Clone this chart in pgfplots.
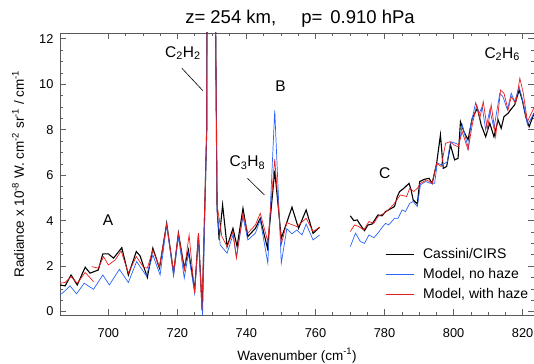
\documentclass[border=0pt]{standalone}
\usepackage{pgfplots}
\pgfplotsset{compat=1.18}
\usepackage{fontspec}
\setmainfont{Liberation Sans}
\definecolor{cblue}{RGB}{40,100,250}
\definecolor{cred}{RGB}{235,30,30}
\begin{document}
\begin{tikzpicture}
\begin{axis}[
 scale only axis, width=474bp, height=282bp,
 xmin=686, xmax=823.3, ymin=-0.15, ymax=12.25,
 xtick={700,720,...,820}, ytick={0,2,...,12},
 minor x tick num=3, minor y tick num=3,
 tick align=inside, major tick length=6bp, minor tick length=3.5bp,
 tick style={gray!75!black, line width=0.5bp},
 axis line style={gray!70!black, line width=0.6bp},
 tick label style={font=\fontsize{12.8bp}{15bp}\selectfont},
 label style={font=\fontsize{13.5bp}{15bp}\selectfont},
 /pgf/number format/assume math mode=true,
 xticklabel style={yshift=-10.5bp},
 yticklabel style={xshift=-3bp},
 title={z= 254 km,\hspace{25bp}p=\hspace{8bp}0.910 hPa},
 title style={font=\fontsize{18.5bp}{20bp}\selectfont, at={(axis description cs:0.5,1)}, anchor=base, yshift=4bp, xshift=3bp},
 xlabel={Wavenumber (cm\textsuperscript{-1})},
 xlabel style={at={(axis description cs:0.5,0)}, anchor=base, yshift=-45bp},
 ylabel={Radiance x 10\textsuperscript{-8} W. cm\textsuperscript{-2} sr\textsuperscript{-1} / cm\textsuperscript{-1}},
 ylabel style={at={(axis description cs:-0.0886,0.50)}, anchor=center},
 unbounded coords=jump,
 legend cell align=left,
 legend image code/.code={\draw[#1] (0bp,0bp) -- (28bp,0bp);},
 legend style={at={(rel axis cs:0.6857,0.243)}, anchor=north west, draw=none, fill=none,
   inner sep=0pt, outer sep=0pt, column sep=7bp, row sep=4.5bp,
   font=\fontsize{14bp}{16bp}\selectfont},
]
\addplot[black, line width=1.1bp, forget plot] coordinates {
(686,1.17) (687.5,1.13) (689.2,1.61) (691,1.17) (693.3,1.95) (694.7,1.69) (697.1,1.83) (698.4,2.54) (700,2.54) (701.5,2.35) (703.9,2.81) (705.8,1.61) (708.1,2.64) (709.2,2.45) (711.3,1.50) (712.9,2.79) (714.8,1.91) (716.9,3.88) (718.9,1.69) (720.3,3.45) (722,1.91) (723.2,2.71) (725,0.95) (726.1,3.37) (727.2,0.05) (728.5,8) (729,40) (730.5,40) (731,14) (731.5,4.54) (732.1,3.15) (733.1,4.69) (734.4,2.86) (736.1,3.66) (737.3,2.86) (739,4.54) (740.4,3.30) (742.6,3.66) (744,4.10) (746.1,2.79) (748.2,6.2) (750.1,3.22) (753.2,4.59) (755.1,3.66) (757.3,4.47) (759.3,3.44) (761.2,3.71)
(765,nan)
(770.1,4.21) (771.1,4.0) (772.1,4.03) (773,3.81) (774.2,3.56) (775.2,3.81) (776.4,3.85) (778.1,4.25) (779.3,4.21) (780.3,4.40) (781.2,4.47) (782.9,4.62) (783.7,5.06) (784.4,5.28) (785.6,5.42) (787.1,5.64) (787.7,5.35) (788.3,4.91) (789.5,4.73) (790.2,5.72) (791.6,5.82) (792.9,5.86) (793.8,5.64) (795.1,6.52) (796.2,7.77) (797,6.30) (798,6.38) (799.1,7.33) (800.3,6.67) (801.3,6.74) (802.0,8.35) (803,7.91) (804.2,7.55) (805.4,8.50) (806.9,8.94) (808.0,8.21) (809.3,7.69) (810.5,8.28) (811.7,7.69) (812.9,8.43) (813.8,8.06) (814.6,8.57) (815.8,8.72) (816.5,8.87) (817.7,9.09) (819,9.74) (819.9,9.31) (820.9,8.57) (821.9,8.13) (823.3,8.72)
};
\addplot[cblue, line width=0.7bp, forget plot] coordinates {
(686,0.73) (687.2,0.88) (688.9,1.13) (690.8,0.78) (693,1.25) (695.7,0.98) (698.4,1.61) (700.3,1.17) (703.2,1.86) (705.8,1.28) (708.2,2.20) (711,1.57) (712.9,2.49) (715,1.61) (716.9,3.81) (718.9,1.57) (720.3,3.30) (722,1.47) (723.2,2.57) (725,0.81) (726.1,3.22) (727.3,-0.15) (728.5,8) (729,40) (730.5,40) (731,14) (731.5,4.47) (732.4,2.93) (734.4,2.57) (736.1,3.37) (737.1,2.42) (739,4.18) (740.4,3.15) (742.6,3.45) (744,4.03) (746.2,2.13) (748.2,8.85) (750.1,2.13) (751.7,3.64) (753.2,3.42) (754.6,3.59) (756.1,3.37) (757.3,3.85) (759.3,3.15) (761.2,3.37)
(765,nan)
(770.1,2.86) (771.6,3.45) (773,3.08) (774.2,3.0) (775.5,3.37) (776.9,3.25) (778.1,3.45) (779.3,3.7) (780.3,3.88) (781.2,3.81) (782.9,4.10) (783.9,4.1) (785.1,4.47) (786.1,4.40) (787.3,4.76) (788.3,4.84) (789.5,4.62) (790.4,5.57) (791.9,5.72) (793.3,5.64) (794.5,5.64) (795.3,6.52) (796.7,6.45) (798.2,6.59) (799.1,7.47) (800.6,7.40) (801.6,7.33) (802.5,8.21) (804.3,7.18) (804.9,8.13) (806.4,9.19) (807.4,8.72) (808.3,9.01) (809.3,7.99) (810.5,8.87) (811.7,8.06) (813.4,9.6) (814.3,9.45) (815.6,8.87) (816.7,9.60) (817.7,9.23) (819,9.89) (820.2,9.16) (821.4,8.21) (822.5,8.50) (823.5,8.79)
};
\addplot[cred, line width=0.7bp, forget plot] coordinates {
(686,1.25) (687.5,1.28) (689.2,1.54) (691,1.25) (693.3,1.72) (695.7,1.32) (695.5,nan) (695.2,1.98) (697.1,1.91) (698.6,2.42) (700,2.05) (702,2.27) (703.7,2.67) (705.8,1.69) (708.1,2.42) (710.2,1.95) (711.3,1.91) (712.9,2.71) (714.8,1.95) (716.9,3.85) (718.9,1.76) (720.3,3.45) (722,1.83) (723.4,3.37) (725,0.81) (726.1,3.45) (727.1,0.07) (728.5,8) (729,40) (730.5,40) (731,14) (731.5,4.69) (732.9,3.30) (734.4,2.86) (736.1,3.52) (737.1,2.35) (739,4.32) (740.4,3.45) (742.6,3.81) (744,4.32) (746.2,3.08) (748.2,6.7) (750.1,2.96) (751.7,3.91) (754.6,3.74) (757.3,4.10) (759.3,3.52) (761.2,3.71)
(765,nan)
(770.1,3.52) (771.3,3.81) (772.5,3.74) (774,3.59) (775.5,3.96) (776.9,3.88) (778.1,4.18) (779.8,4.32) (780.6,4.40) (782.5,4.69) (784.6,5.13) (786.4,5.06) (787.3,5.42) (788.5,5.28) (789.5,5.42) (790.4,5.64) (792.2,5.79) (793.8,5.64) (795.1,6.52) (796.4,6.38) (797.7,7.40) (799,7.47) (800.1,7.33) (801.3,7.25) (802.5,7.91) (804.2,7.11) (805.4,8.21) (806.7,9.09) (807.6,8.50) (808.6,9.23) (809.8,7.99) (810.9,9.09) (812.2,7.69) (813.6,9.74) (814.6,9.6) (815.8,8.87) (816.7,9.45) (818,9.16) (819.2,10.26) (820.2,9.6) (821.4,8.35) (822.5,8.72) (823.5,9.01)
};
\addlegendimage{draw=black, line width=1.1bp}
\addlegendentry{Cassini/CIRS}
\addlegendimage{draw=cblue, line width=1bp}
\addlegendentry{Model, no haze}
\addlegendimage{draw=cred, line width=1bp}
\addlegendentry{Model, with haze}
\begin{scope}[every node/.style={font=\fontsize{15.5bp}{17bp}\selectfont, anchor=base}]
\node at (axis cs:721.6,11.18) {C\textsubscript{2}H\textsubscript{2}};
\node at (axis cs:749.9,9.67) {B};
\node at (axis cs:740.3,6.37) {C\textsubscript{3}H\textsubscript{8}};
\node at (axis cs:699.9,3.77) {A};
\node at (axis cs:780.05,5.86) {C};
\node at (axis cs:814.1,11.14) {C\textsubscript{2}H\textsubscript{6}};
\end{scope}
\draw[black, line width=0.6bp] (axis cs:721.3,10.70) -- (axis cs:727.4,9.71);
\draw[black, line width=0.6bp] (axis cs:740.3,5.86) -- (axis cs:745.2,5.13);
\end{axis}
\pgfresetboundingbox
\path (current axis.south west) ++(-60bp,-49bp) rectangle ++(534bp,364bp);
\end{tikzpicture}
\end{document}
